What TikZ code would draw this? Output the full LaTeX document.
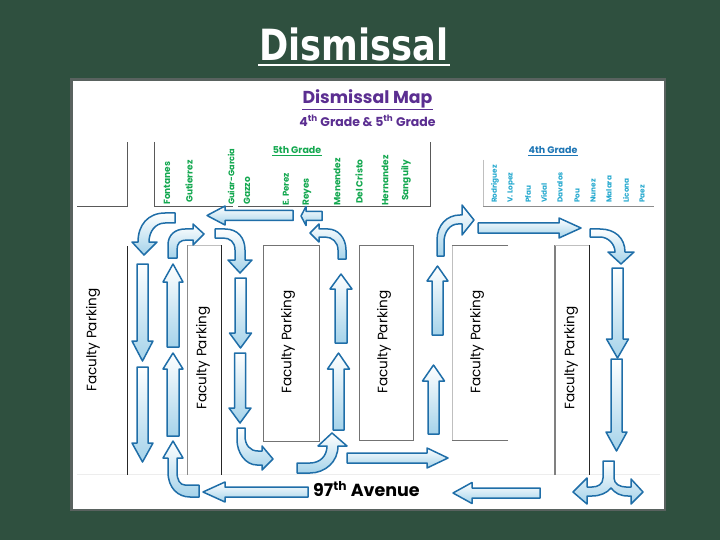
\documentclass[tikz,border=0pt]{standalone}
\usepackage{fontspec}
\setmainfont{Poppins}
\newfontfamily\titlefont{DejaVu Sans}
\newcommand{\flowv}[6]{% cx, half shaft, half head, tail y, base y, tip y
  \path[flow] ({#1-#2},#4) -- ({#1-#2},#5) -- ({#1-#3},#5) -- (#1,#6) -- ({#1+#3},#5) -- ({#1+#2},#5) -- ({#1+#2},#4) -- cycle;}
\newcommand{\flowh}[6]{% cy, half shaft, half head, tail x, base x, tip x
  \path[flow] (#4,{#1-#2}) -- (#5,{#1-#2}) -- (#5,{#1-#3}) -- (#6,#1) -- (#5,{#1+#3}) -- (#5,{#1+#2}) -- (#4,{#1+#2}) -- cycle;}
\definecolor{board}{HTML}{2F503F}
\definecolor{framegray}{HTML}{59625F}
\definecolor{flowline}{HTML}{1F6EA8}
\definecolor{flowlight}{HTML}{A5D3EA}
\definecolor{mappurple}{HTML}{5B2E91}
\definecolor{fifthgreen}{HTML}{14A850}
\definecolor{fourthblue}{HTML}{1C75B5}
\definecolor{fourthcyan}{HTML}{25A9CF}
\tikzset{
  flow/.style={draw=flowline,line width=1.5pt,line join=round,top color=white,bottom color=flowlight},
  fifthname/.style={rotate=90,anchor=west,text=fifthgreen,font=\fontsize{9}{10}\selectfont\bfseries,inner sep=0pt},
  fourthname/.style={rotate=90,anchor=west,text=fourthcyan,font=\fontsize{7.3}{9}\selectfont\bfseries,inner sep=0pt},
  parking/.style={rotate=90,text=black,font=\fontsize{13.6}{15}\selectfont,inner sep=0pt},
  lotblack/.style={draw=black!85,line width=0.8pt},
  lotgray/.style={draw=black!55,line width=0.8pt},
  lotpale/.style={draw=black!25,line width=0.8pt},
  wall/.style={draw=black!65,line width=1pt}
}
\begin{document}
\begin{tikzpicture}[x=1pt,y=-1pt]
\useasboundingbox (0,0) rectangle (720,540);
\fill[board] (0,0) rectangle (720,540);
% title
\node[text=white,inner sep=0pt,xscale=.82] (title) at (354,44) {\titlefont\bfseries\fontsize{43}{46}\selectfont Dismissal};
\coordinate (ula) at (258,65); \coordinate (ulb) at (450,65);
\draw[white,line width=2.8pt] (ula) -- (ulb);
% panel
\fill[framegray] (70,78) rectangle (666,511);
\fill[white] (73,81) rectangle (664,509);
\draw[black!7,line width=.6pt] (77,474.5) -- (660,474.5);
% headings
\node[text=mappurple,inner sep=0pt,font=\fontsize{17.3}{19}\selectfont\bfseries] (maptitle) at (367.5,99) {Dismissal Map};
\draw[mappurple,line width=.9pt] (302,109.5) -- (433,109.5);
\node[text=mappurple,inner sep=0pt,font=\fontsize{12.5}{14}\selectfont\bfseries] (grades) at (367.5,121) {4\textsuperscript{th} Grade \& 5\textsuperscript{th} Grade};
\node[text=fifthgreen,inner sep=0pt,font=\fontsize{9.5}{11}\selectfont\bfseries] (fifth) at (297,150) {5th Grade};
\draw[fifthgreen,line width=.7pt] (272,155.5) -- (322,155.5);
\node[text=fourthblue,inner sep=0pt,font=\fontsize{9.5}{11}\selectfont\bfseries] (fourth) at (553,150) {4th Grade};
\draw[fourthblue,line width=.7pt] (528,155.5) -- (578,155.5);
% walls
\draw[wall] (77,206.5) -- (127.5,206.5) -- (127.5,142);
\draw[wall] (154.5,142) -- (154.5,206.5) -- (233,206.5);
\draw[wall] (238,206.5) -- (430,206.5) -- (430,142);
\draw[lotpale] (483,160) -- (483,206);
\draw[draw=black!45,line width=.8pt] (483,206) -- (654,206);
% fifth grade names
\node[fifthname] (n1) at (167,205) {Fontanes};
\node[fifthname] (n2) at (189,203) {Gutierrez};
\node[fifthname,font=\fontsize{8.2}{9}\selectfont\bfseries] (n3) at (231,205) {Guiar-Garcia};
\node[fifthname] (n4) at (247,205) {Gazzo};
\node[fifthname,font=\fontsize{8.6}{9}\selectfont\bfseries] (n5) at (286,206) {E. Perez};
\node[fifthname] (n6) at (307,206) {Reyes};
\node[fifthname] (n7) at (337,206) {Menendez};
\node[fifthname] (n8) at (359,204) {Del Cristo};
\node[fifthname] (n9) at (385,206) {Hernandez};
\node[fifthname] (n10) at (406,201) {Sanguily};
% fourth grade names
\node[fourthname] (m1) at (495,203) {Rodriguez};
\node[fourthname] (m2) at (511,203) {V. Lopez};
\node[fourthname] (m3) at (528,203) {Pfau};
\node[fourthname] (m4) at (544,203) {Vidal};
\node[fourthname] (m5) at (560,203) {Davalos};
\node[fourthname] (m6) at (577,203) {Pou};
\node[fourthname] (m7) at (593,203) {Nunez};
\node[fourthname] (m8) at (609,203) {Malara};
\node[fourthname] (m9) at (626,203) {Licona};
\node[fourthname] (m10) at (642,203) {Paez};
% parking lots
\draw[lotblack] (127,246) -- (127,475);
\draw[lotpale] (187,245) -- (221,245);
\draw[draw=black!45,line width=.8pt] (187,245) -- (187,475);
\draw[lotblack] (221,245) -- (221,475);
\draw[lotgray] (263,245) rectangle (319,441);
\draw[lotgray] (359,245) rectangle (413,440);
\draw[lotpale] (452,245) -- (452,440);
\draw[lotgray] (508,245) -- (452,245);
\draw[lotgray] (508,440.5) -- (452,440.5);
\draw[draw=black!50,line width=1.2pt] (555,475) -- (555,245);
\draw[lotpale] (555,245) -- (589,245);
\draw[lotblack] (589,245) -- (589,475);
\node[parking] (p1) at (93,340) {Faculty Parking};
\node[parking] (p2) at (203,358) {Faculty Parking};
\node[parking] (p3) at (288,342) {Faculty Parking};
\node[parking] (p4) at (384,342) {Faculty Parking};
\node[parking] (p5) at (477,342) {Faculty Parking};
\node[parking] (p6) at (571,358) {Faculty Parking};
% avenue
\node[anchor=west,inner sep=0pt,font=\fontsize{17.5}{19}\selectfont\bfseries] (ave) at (313,489) {97\textsuperscript{th} Avenue};
% straight arrows
\flowh{215.5}{5}{9.5}{293}{225}{207}
\flowh{216}{4.5}{9.5}{322}{306}{301}
\flowh{228}{5}{10}{478}{559}{581}
\flowh{458}{5}{10}{347}{427}{448}
\flowh{492}{5}{10}{308}{225}{203}
\flowh{493}{5}{10.5}{540}{472}{453}
\flowv{142.5}{5.5}{10.5}{264}{341}{361}
\flowv{142.5}{5.5}{10.5}{367}{443}{462}
\flowv{173}{6}{10}{347}{282}{264}
\flowv{173}{6}{10}{436}{369}{353}
\flowv{240.5}{5.5}{11}{278}{333}{348}
\flowv{240}{5.5}{11}{353}{408}{423}
\flowv{341}{6}{11}{343}{289}{274}
\flowv{338.5}{5.5}{11}{430}{369}{353}
\flowv{437.5}{5.5}{10.5}{335}{281}{266}
\flowv{433.5}{5.5}{11}{434}{381}{365}
\flowv{617.5}{5.5}{11}{268}{339}{358}
\flowv{616.5}{5.5}{10.5}{359}{432}{451}
% curved arrows
\path[flow] (175,213) -- (165,213) .. controls (148,213) and (138,225) .. (138,242) -- (132,242) -- (144,255) -- (157,242) -- (149,242) .. controls (149,232) and (155,223) .. (165,223) -- (175,223) -- cycle;
\path[flow] (168,258) -- (168,245) .. controls (168,235) and (175,229) .. (185,229) -- (193,229) -- (193,224) -- (204,234) -- (193,245) -- (193,240) -- (187,240) .. controls (180,240) and (177,243) .. (177,250) -- (177,258) -- cycle;
\path[flow] (215,229) -- (225,229) .. controls (238,229) and (245,238) .. (245,250) -- (245,260) -- (252,260) -- (240,273) -- (228,260) -- (235,260) -- (235,250) .. controls (235,242) and (230,238) .. (223,238) -- (215,238) -- cycle;
\path[flow] (338,259) -- (338,250) .. controls (338,242) and (332,237) .. (325,237) -- (319,237) -- (319,242) -- (310,233) -- (319,224) -- (319,229) -- (328,229) .. controls (338,229) and (346,238) .. (346,250) -- (346,259) -- cycle;
\path[flow] (437,256) -- (437,240) .. controls (437,225) and (447,215) .. (460,215) -- (462,215) -- (462,205) -- (474,220) -- (462,235) -- (462,224) -- (458,224) .. controls (450,224) and (444,232) .. (444,242) -- (444,256) -- cycle;
\path[flow] (590,229) -- (600,229) .. controls (615,229) and (625,238) .. (625,252) -- (634,252) -- (621,264) -- (608,252) -- (615,252) .. controls (615,244) and (608,237) .. (600,237) -- (590,237) -- cycle;
\path[flow] (237,428) -- (245,428) -- (245,436) .. controls (245,445) and (250,451) .. (258,451) -- (262,451) -- (262,446) -- (273,459) -- (262,470) -- (262,465) -- (257,465) .. controls (245,465) and (237,452) .. (237,440) -- cycle;
\path[flow] (297,463) -- (310,463) .. controls (320,463) and (327,456) .. (327,446) -- (318,446) -- (332,433) -- (347,446) -- (338,446) .. controls (338,462) and (325,473) .. (310,473) -- (297,473) -- cycle;
\path[flow] (199,485) -- (185,485) .. controls (180,485) and (177,480) .. (177,472) -- (177,458) -- (183,458) -- (173,441) -- (163,458) -- (168,458) -- (168,472) .. controls (168,488) and (178,497) .. (190,497) -- (199,497) -- cycle;
\path[flow] (603,461) -- (614,461) -- (614,478) .. controls (614,484) and (620,487) .. (626,487) -- (631,487) -- (631,479) -- (643,492) -- (631,504) -- (631,496) -- (628,496) .. controls (620,496) and (615,493) .. (611,488) .. controls (607,493) and (600,496) .. (592,496) -- (587,496) -- (587,504) -- (573,492) -- (587,478) -- (587,487) -- (592,487) .. controls (598,487) and (603,484) .. (603,478) -- cycle;
\end{tikzpicture}
\end{document}
